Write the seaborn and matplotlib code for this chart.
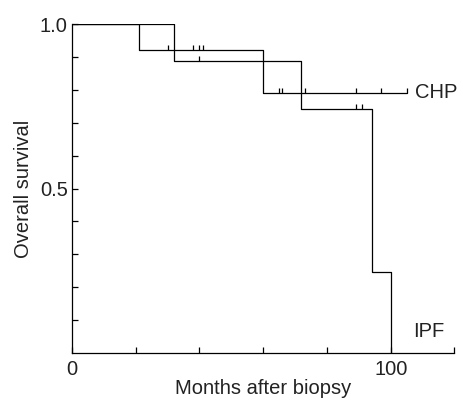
import matplotlib
matplotlib.use("Agg")
import matplotlib.pyplot as plt
import pandas as pd
import seaborn as sns

# Kaplan-Meier steps (months, survival)
chp_times = [0, 21, 60, 105]
chp_surv = [1.0, 0.923, 0.791, 0.791]
ipf_times = [0, 32, 72, 94, 100]
ipf_surv = [1.0, 0.889, 0.741, 0.247, 0.0]

# censored observations
chp_cens_t = [30, 38, 39.8, 41, 65, 66, 73, 89.2, 97.1]
chp_cens_s = [0.923, 0.923, 0.923, 0.923, 0.791, 0.791, 0.791, 0.791, 0.791]
ipf_cens_t = [40, 89.2, 90.9]
ipf_cens_s = [0.889, 0.741, 0.741]

sns.set_style("ticks")
plt.rcParams["font.family"] = ["Liberation Sans", "DejaVu Sans"]
FS = 14.5

fig = plt.figure(figsize=(4.63, 4.03), dpi=100)
ax = fig.add_axes([0.1555, 0.124, 0.826, 0.816])

curves = pd.concat([
    pd.DataFrame({"t": chp_times, "s": chp_surv, "grp": "CHP"}),
    pd.DataFrame({"t": ipf_times, "s": ipf_surv, "grp": "IPF"}),
])
for grp, sub in curves.groupby("grp"):
    sns.lineplot(data=sub, x="t", y="s", ax=ax, color="black", lw=0.9,
                 drawstyle="steps-post", estimator=None, sort=False)

cens = pd.DataFrame({"t": chp_cens_t + ipf_cens_t, "s": chp_cens_s + ipf_cens_s})
ax.plot(cens["t"], cens["s"], linestyle="none", marker=2, markersize=3.5,
        markeredgewidth=0.9, color="black")
ax.plot([chp_times[-1]], [chp_surv[-1]], linestyle="none", marker=2, markersize=3.5,
        markeredgewidth=0.9, color="black")

ax.set_xlim(0, 120)
ax.set_ylim(0, 1.0)
ax.set_xticks([0, 100])
ax.set_xticks([20, 40, 60, 80, 120], minor=True)
ax.set_yticks([0.5, 1.0])
ax.set_yticklabels(["0.5", "1.0"])
ax.set_yticks([0.1, 0.2, 0.3, 0.4, 0.6, 0.7, 0.8, 0.9], minor=True)
ax.tick_params(which="both", direction="in", length=4, width=0.9, labelsize=FS,
               color="black", labelcolor="#222222")
ax.tick_params(axis="y", pad=3)
ax.tick_params(axis="x", pad=5)
for sp in ["left", "bottom"]:
    ax.spines[sp].set_linewidth(0.9)
    ax.spines[sp].set_color("black")
sns.despine(ax=ax)

ax.set_xlabel("Months after biopsy", fontsize=FS, color="#222222", labelpad=0)
ax.set_ylabel("Overall survival", fontsize=FS, color="#222222", labelpad=5)
ax.text(107.5, 0.791, "CHP", fontsize=FS, va="center", ha="left", color="#222222")
ax.text(107, 0.064, "IPF", fontsize=FS, va="center", ha="left", color="#222222")

fig.savefig("out.png", dpi=100)
